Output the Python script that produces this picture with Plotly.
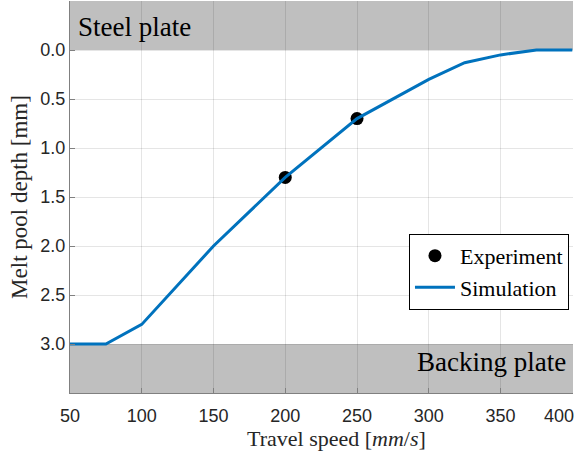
import plotly.graph_objects as go

# Simulated melt pool depth vs travel speed
sim_speed = [50, 75, 100, 150, 200, 250, 300, 325, 350, 375, 400]
sim_depth = [3.0, 3.0, 2.8, 2.0, 1.3, 0.7, 0.3, 0.13, 0.05, 0.0, 0.0]

# Measured points
exp_speed = [200, 250]
exp_depth = [1.3, 0.7]

x_ticks = [50, 100, 150, 200, 250, 300, 350, 400]
x_tick_text = ["50", "100", "150", "200", "250", "300", "350", ""]
last_x_label = "400"  # drawn separately so it stays inside the figure
y_ticks = [0.0, 0.5, 1.0, 1.5, 2.0, 2.5, 3.0]

serif = "Liberation Serif"
sans = "Liberation Sans"
band = "#bfbfbf"
tick_font = dict(family=sans, size=18, color="#262626")

fig = go.Figure()
fig.add_trace(go.Scatter(
    x=exp_speed, y=exp_depth, mode="markers", name="Experiment",
    marker=dict(color="black", size=13),
))
fig.add_trace(go.Scatter(
    x=sim_speed, y=sim_depth, mode="lines", name="Simulation",
    line=dict(color="#0072BD", width=3),
))

# Plate regions above and below the workpiece
fig.add_shape(type="rect", xref="paper", yref="y", x0=0, x1=1, y0=-0.5, y1=0.0,
              fillcolor=band, line_width=0, layer="below")
fig.add_shape(type="rect", xref="paper", yref="y", x0=0, x1=1, y0=3.0, y1=3.5,
              fillcolor=band, line_width=0, layer="below")

fig.add_annotation(x=0.012, xref="paper", y=-0.23, yref="y", text="Steel plate",
                   showarrow=False, xanchor="left", yanchor="middle",
                   font=dict(family=serif, size=27, color="black"))
fig.add_annotation(x=0.99, xref="paper", y=3.18, yref="y", text="Backing plate",
                   showarrow=False, xanchor="right", yanchor="middle",
                   font=dict(family=serif, size=27, color="black"))

# Right-most x tick label, pulled left to fit in the figure
fig.add_annotation(x=x_ticks[-1], xref="x", y=0, yref="paper", text=last_x_label,
                   showarrow=False, xanchor="right", yanchor="top",
                   xshift=4, yshift=-11, font=tick_font)

# X axis title
fig.add_annotation(x=0.529, xref="paper", y=0, yref="paper",
                   text="Travel speed [<i>mm</i>/<i>s</i>]",
                   showarrow=False, xanchor="center", yanchor="top", yshift=-31,
                   font=dict(family=serif, size=22, color="#262626"))

axis_common = dict(
    showgrid=True, gridcolor="rgba(0,0,0,0.10)", gridwidth=1,
    showline=True, linecolor="#808080", linewidth=1, mirror=False,
    ticks="inside", ticklen=5, tickcolor="#808080",
    tickfont=tick_font, zeroline=False, automargin=False,
)

fig.update_xaxes(
    range=[50, 400.5], tickvals=x_ticks, ticktext=x_tick_text,
    ticklabelstandoff=6,
    **axis_common,
)
fig.update_yaxes(
    range=[3.5, -0.5], tickvals=y_ticks, tickformat=".1f",
    title=dict(text="Melt pool depth [mm]",
               font=dict(family=serif, size=23, color="#262626"), standoff=6),
    **axis_common,
)

fig.update_layout(
    width=578, height=454,
    margin=dict(l=70, r=5, t=1, b=61),
    plot_bgcolor="white", paper_bgcolor="white",
    showlegend=True,
    legend=dict(
        x=0.992, y=0.406, xanchor="right", yanchor="top",
        bgcolor="white", bordercolor="black", borderwidth=1,
        font=dict(family=serif, size=22, color="black"),
        itemwidth=40, tracegroupgap=0,
    ),
)

fig.write_html("out.html")
